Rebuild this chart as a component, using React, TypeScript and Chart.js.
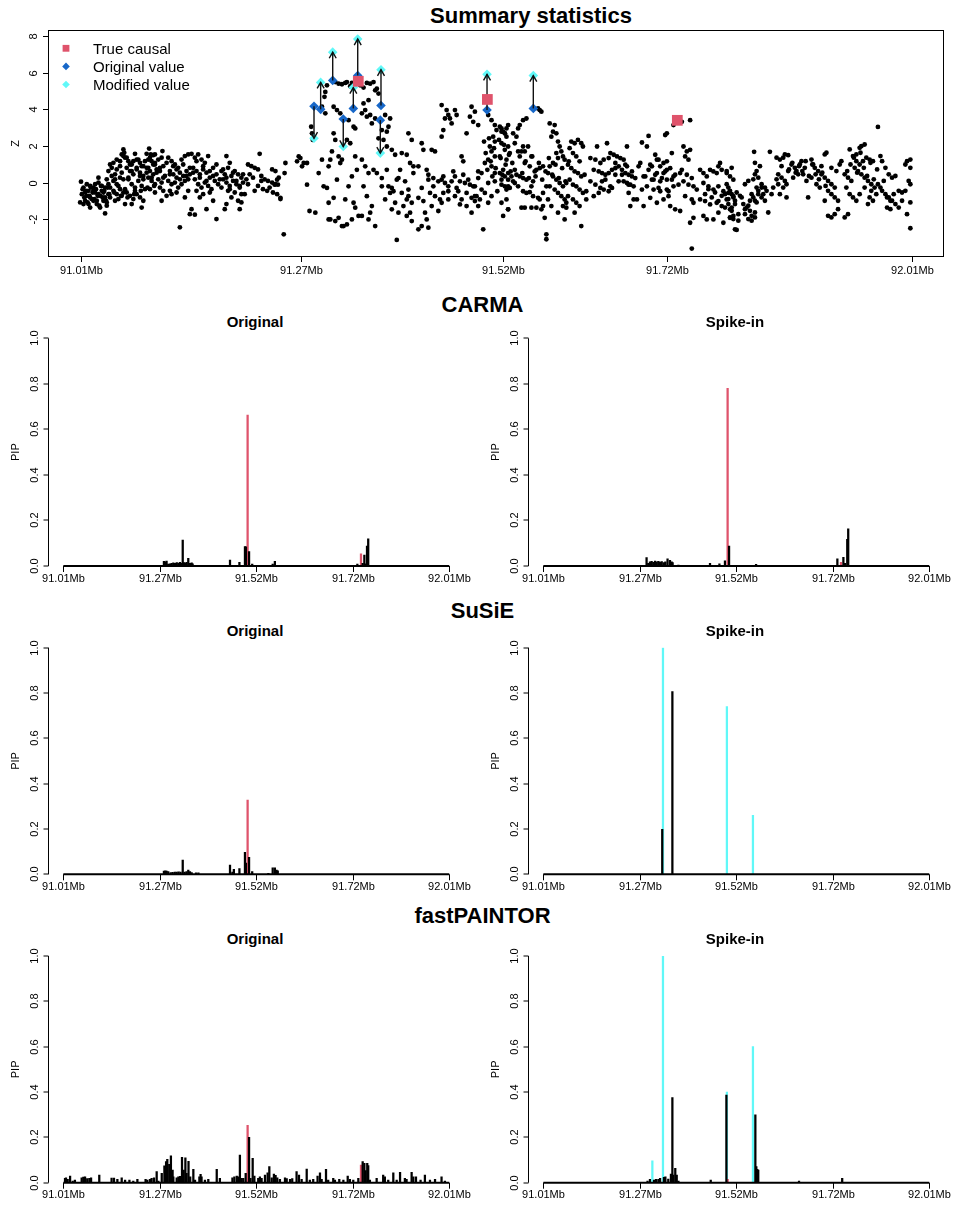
import React, { useEffect, useRef } from "react";
import { Chart, registerables } from "chart.js";

Chart.register(...registerables);

const FONT = '"Liberation Sans", Arial, Helvetica, sans-serif';
const RED = "#DF536B";
const BLUE = "#1767C8";
const CYAN = "#60F8F8";

// ---------- axis ticks ----------
const axisLabels = ["91.01Mb", "91.27Mb", "91.52Mb", "91.72Mb", "92.01Mb"];
const axisPosMb = [91.01, 91.2748, 91.5177, 91.7152, 92.01];
const axisIndex = [1, 401, 801, 1201, 1601];
const zTicks = [-2, 0, 2, 4, 6, 8];
const pipTicks = [0, 0.2, 0.4, 0.6, 0.8, 1.0];

// ---------- summary statistics (position in Mb, Z) ----------
const snpPos = [
  91.010, 91.009, 91.013, 91.015, 91.017, 91.019, 91.021, 91.011, 91.015, 91.019, 91.023, 91.021,
  91.025, 91.027, 91.031, 91.035, 91.039, 91.027, 91.031, 91.035, 91.039, 91.043, 91.025, 91.029, 91.033, 91.037, 91.041, 91.039, 91.043, 91.031, 91.041,
  91.045, 91.043, 91.047, 91.051, 91.053, 91.057, 91.059, 91.061, 91.062, 91.063, 91.049, 91.053, 91.057, 91.061, 91.045, 91.049, 91.053, 91.057, 91.061, 91.045, 91.051, 91.055, 91.059, 91.063,
  91.067, 91.071, 91.075, 91.077, 91.081, 91.085, 91.065, 91.069, 91.073, 91.077, 91.081, 91.085, 91.067, 91.071, 91.075, 91.079, 91.083, 91.087, 91.065, 91.069, 91.073, 91.077, 91.081, 91.085, 91.071, 91.083,
  91.092, 91.089, 91.094, 91.097, 91.099, 91.091, 91.095, 91.099, 91.103, 91.107, 91.108, 91.089, 91.093, 91.097, 91.101, 91.105, 91.109, 91.091, 91.095, 91.099, 91.103, 91.107, 91.111, 91.093, 91.099, 91.105, 91.109, 91.107, 91.113,
  91.115, 91.119, 91.123, 91.127, 91.131, 91.135, 91.139, 91.143, 91.117, 91.121, 91.125, 91.129, 91.133, 91.137, 91.141, 91.115, 91.119, 91.123, 91.127, 91.131, 91.135, 91.139, 91.119, 91.125, 91.117, 91.129, 91.135, 91.139, 91.143, 91.141, 91.147,
  91.147, 91.151, 91.155, 91.159, 91.163, 91.145, 91.149, 91.153, 91.157, 91.161, 91.165, 91.169, 91.173, 91.147, 91.151, 91.155, 91.159, 91.163, 91.167, 91.171, 91.175, 91.149, 91.157, 91.165, 91.161, 91.173, 91.169, 91.153,
  91.185, 91.189, 91.187, 91.179, 91.183, 91.191, 91.195, 91.199, 91.203, 91.181, 91.185, 91.189, 91.193, 91.197, 91.201, 91.205, 91.179, 91.187, 91.195, 91.203, 91.183, 91.185, 91.201, 91.203, 91.207, 91.191, 91.199,
  91.225, 91.211, 91.215, 91.219, 91.223, 91.240, 91.244, 91.213, 91.217, 91.227, 91.231, 91.235, 91.240, 91.244, 91.248, 91.211, 91.223, 91.229, 91.234, 91.237, 91.241, 91.246, 91.250, 91.219, 91.227,
  91.246, 91.247, 91.250, 91.255, 91.256, 91.243, 91.254, 91.274, 91.278, 91.282, 91.270, 91.276, 91.282, 91.272,
  91.285, 91.292, 91.287, 91.288, 91.289, 91.296, 91.300, 91.303, 91.304, 91.306, 91.302, 91.306, 91.308, 91.308, 91.310, 91.308, 91.312, 91.310, 91.300, 91.304,
  91.316, 91.320, 91.324, 91.328, 91.314, 91.318, 91.322, 91.314, 91.316, 91.320, 91.324, 91.318, 91.314, 91.316, 91.320, 91.324, 91.326, 91.328, 91.322,
  91.330, 91.334, 91.336, 91.332, 91.338, 91.340, 91.330, 91.334, 91.340, 91.342, 91.336, 91.332, 91.338, 91.340, 91.336, 91.330, 91.344,
  91.346, 91.350, 91.354, 91.358, 91.362, 91.348, 91.352, 91.354, 91.358, 91.360, 91.348, 91.352, 91.356, 91.362, 91.350, 91.354, 91.358, 91.360, 91.348, 91.356, 91.364, 91.364, 91.356, 91.350,
  91.366, 91.368, 91.364, 91.370, 91.372, 91.376, 91.378, 91.382, 91.380, 91.374, 91.378, 91.384, 91.368, 91.366, 91.372, 91.380, 91.376, 91.384, 91.382, 91.378, 91.372,
  91.404, 91.408, 91.388, 91.396, 91.402, 91.406, 91.410, 91.394, 91.390, 91.400, 91.396, 91.402, 91.408, 91.388, 91.392, 91.402, 91.406, 91.408, 91.390, 91.384, 91.404,
  91.420, 91.422, 91.432, 91.436, 91.444, 91.450, 91.452, 91.448, 91.444, 91.446, 91.416, 91.426, 91.428, 91.434, 91.440, 91.444, 91.448, 91.420, 91.430, 91.436, 91.442, 91.444, 91.432, 91.424, 91.426, 91.420, 91.416, 91.428, 91.446, 91.452,
  91.460, 91.462, 91.454, 91.456, 91.480, 91.484, 91.478, 91.482, 91.488, 91.474, 91.468, 91.470, 91.460, 91.466, 91.472, 91.478, 91.484, 91.452, 91.456, 91.462, 91.474, 91.468, 91.480, 91.484, 91.474, 91.480, 91.460, 91.466, 91.484, 91.494,
  91.500, 91.504, 91.508, 91.510, 91.514, 91.516, 91.520, 91.522, 91.524, 91.506, 91.508, 91.502, 91.504, 91.508, 91.500, 91.496, 91.504, 91.508, 91.514, 91.520, 91.524, 91.492, 91.488, 91.500, 91.508, 91.516, 91.524, 91.492, 91.496, 91.504, 91.490, 91.486, 91.488, 91.500, 91.522, 91.524,
  91.516, 91.518, 91.520, 91.522, 91.524, 91.516, 91.520, 91.526, 91.514, 91.522, 91.518, 91.524, 91.528, 91.530, 91.516, 91.520, 91.526, 91.522, 91.516, 91.524, 91.518,
  91.536, 91.538, 91.542, 91.546, 91.530, 91.534, 91.532, 91.542, 91.548, 91.536, 91.540, 91.544, 91.538, 91.544, 91.550, 91.534, 91.538, 91.542, 91.546, 91.532, 91.536, 91.542, 91.546, 91.550, 91.540, 91.544, 91.552, 91.532, 91.552,
  91.560, 91.562, 91.564, 91.552, 91.554, 91.556, 91.558, 91.562, 91.566, 91.554, 91.560, 91.562, 91.566, 91.558, 91.564, 91.568, 91.570, 91.570, 91.566, 91.570,
  91.574, 91.580, 91.578, 91.582, 91.576, 91.584, 91.586, 91.588, 91.582, 91.584, 91.590, 91.592, 91.578, 91.574, 91.572, 91.578, 91.582, 91.586, 91.590, 91.594, 91.574, 91.580, 91.584, 91.588, 91.592, 91.594, 91.590, 91.584, 91.594, 91.592, 91.572, 91.576,
  91.600, 91.604, 91.608, 91.612, 91.598, 91.602, 91.606, 91.610, 91.614, 91.596, 91.600, 91.604, 91.608, 91.612, 91.616, 91.598, 91.602, 91.606, 91.610, 91.614, 91.618, 91.596, 91.602, 91.606, 91.610, 91.604, 91.612, 91.618,
  91.631, 91.643, 91.623, 91.629, 91.635, 91.639, 91.645, 91.627, 91.633, 91.637, 91.641, 91.623, 91.629, 91.635, 91.639, 91.645, 91.627, 91.633, 91.647, 91.637,
  91.647, 91.651, 91.655, 91.659, 91.663, 91.667, 91.653, 91.657, 91.661, 91.665, 91.669, 91.673, 91.667, 91.649, 91.653, 91.663, 91.667, 91.671, 91.675, 91.669, 91.671, 91.675,
  91.685, 91.693, 91.691, 91.701, 91.703, 91.707, 91.711, 91.715, 91.713, 91.721, 91.703, 91.699, 91.707, 91.715, 91.723, 91.691, 91.699, 91.707, 91.715, 91.723, 91.731, 91.679, 91.687, 91.695, 91.703, 91.711, 91.719, 91.725, 91.731, 91.717, 91.697, 91.711, 91.719, 91.687,
  91.723, 91.733, 91.743, 91.735, 91.739, 91.743, 91.737, 91.741, 91.733, 91.739, 91.745, 91.735, 91.741, 91.747, 91.751, 91.737, 91.745, 91.747, 91.743, 91.747, 91.745, 91.715,
  91.755, 91.759, 91.763, 91.767, 91.771, 91.775, 91.779, 91.777, 91.781, 91.787, 91.791, 91.795, 91.759, 91.765, 91.771, 91.777, 91.783, 91.789, 91.795, 91.755, 91.761, 91.767, 91.775, 91.781, 91.787, 91.791, 91.795, 91.759, 91.763, 91.771, 91.777, 91.783, 91.791, 91.797,
  91.787, 91.789, 91.791, 91.793, 91.795, 91.797, 91.789, 91.793, 91.799, 91.803, 91.785, 91.793, 91.787, 91.791, 91.795, 91.799, 91.801,
  91.809, 91.813, 91.817, 91.819, 91.821, 91.811, 91.815, 91.807, 91.809, 91.813, 91.817, 91.821, 91.823, 91.821, 91.823, 91.821, 91.820, 91.825, 91.819, 91.815, 91.825, 91.823,
  91.827, 91.829, 91.833, 91.835, 91.837, 91.829, 91.833, 91.839, 91.841, 91.843, 91.831,
  91.847, 91.851, 91.855, 91.857, 91.861, 91.849, 91.853, 91.857, 91.859, 91.849, 91.855, 91.851, 91.859, 91.865, 91.869, 91.871, 91.873, 91.877, 91.881, 91.875, 91.879, 91.883, 91.885, 91.867, 91.861, 91.853, 91.847,
  91.889, 91.891, 91.893, 91.897, 91.901, 91.905, 91.907, 91.901, 91.905, 91.909, 91.913, 91.917, 91.909, 91.913, 91.917, 91.921, 91.909, 91.913, 91.917, 91.921, 91.905, 91.913, 91.919, 91.923, 91.925, 91.889, 91.895, 91.899,
  91.935, 91.939, 91.943, 91.947, 91.949, 91.953, 91.943, 91.947, 91.951, 91.955, 91.959, 91.963, 91.941, 91.945, 91.949, 91.953, 91.957, 91.961, 91.929, 91.933, 91.937, 91.931, 91.935, 91.939, 91.943, 91.929, 91.933, 91.947, 91.953, 91.959, 91.963, 91.961, 91.965, 91.967, 91.957,
  91.969, 91.972, 91.974, 91.978, 91.982, 91.986, 91.990, 91.994, 91.998, 91.969, 91.974, 91.978, 91.982, 91.986, 91.990, 91.994, 91.998, 92.002, 92.004, 92.008, 92.008, 92.006, 92.008, 92.008, 92.004, 92.008, 92.002, 91.988, 91.980, 91.984,
  91.012, 91.014, 91.016, 91.018, 91.020, 91.022, 91.024, 91.026, 91.028, 91.030, 91.032, 91.034, 91.036, 91.038, 91.040, 91.042, 91.044, 91.013, 91.017, 91.021, 91.025, 91.029, 91.033, 91.037, 91.041,
  91.047, 91.049, 91.051, 91.053, 91.055, 91.057, 91.059, 91.061, 91.063, 91.065, 91.067, 91.069, 91.071, 91.073, 91.075, 91.077, 91.079, 91.081, 91.083, 91.085, 91.087, 91.089, 91.091, 91.093, 91.095, 91.097, 91.099, 91.050, 91.058, 91.066, 91.074, 91.082, 91.090, 91.098,
  91.101, 91.105, 91.109, 91.113, 91.117, 91.121, 91.125, 91.129, 91.133, 91.137, 91.141, 91.145, 91.149, 91.153, 91.157, 91.161, 91.165, 91.169, 91.173, 91.177, 91.181, 91.185, 91.189, 91.193, 91.197, 91.201, 91.205, 91.209,
  91.495, 91.497, 91.499, 91.501, 91.503, 91.505, 91.507, 91.509, 91.511, 91.513, 91.515, 91.517, 91.519, 91.521, 91.523, 91.525, 91.527, 91.529,
  91.541, 91.545, 91.549, 91.553, 91.557, 91.561, 91.565, 91.569, 91.573, 91.577, 91.581, 91.585, 91.589, 91.593, 91.597,
  91.641, 91.645, 91.649, 91.653, 91.657, 91.661, 91.665, 91.669, 91.673, 91.677, 91.681, 91.685, 91.689, 91.693, 91.697, 91.701, 91.705, 91.709, 91.713, 91.717, 91.721, 91.725, 91.729, 91.683, 91.695, 91.705, 91.715,
  91.761, 91.765, 91.769, 91.773, 91.777, 91.781, 91.785, 91.789, 91.793, 91.797, 91.801, 91.805, 91.809, 91.813, 91.817, 91.821, 91.825, 91.829,
  91.862, 91.866, 91.870, 91.874, 91.878, 91.882, 91.886, 91.890, 91.894, 91.898, 91.902, 91.906,
  91.932, 91.936, 91.940, 91.944, 91.948, 91.952, 91.956, 91.960, 91.964, 91.968, 91.972, 91.976, 91.980, 91.984,
  91.386, 91.392, 91.398, 91.404, 91.410, 91.416, 91.422, 91.428, 91.434, 91.440, 91.446, 91.452, 91.458, 91.464, 91.470, 91.476, 91.482, 91.488,
];
const snpZ = [
  0.05, -1.08, -0.27, -0.54, -0.72, -0.45, -0.18, -0.63, -0.99, -1.17, -0.90, -1.36,
  -0.27, -0.09, 0, -0.18, -0.27, -0.54, -0.63, -0.45, -0.81, -0.63, -0.99, -1.17, -1.36, -0.99, -1.26, -1.68, -0.09, 0.27, 0.18,
  0.99, 0.63, 0.81, 0.45, 0.72, 1.17, 1.54, 1.81, 1.63, 1.36, 0.09, -0.09, 0.27, 0.18, -0.27, -0.45, -0.63, -0.36, -0.54, -0.81, -0.99, -0.90, -0.72, -1.17,
  1.17, 0.99, 1.57, 1.26, 1.08, 0.90, 0.81, 0.63, 0.45, 0.81, 0.54, 0.36, 0.18, -0.09, -0.27, 0.09, -0.18, -0.36, -0.54, -0.72, -0.90, -0.63, -0.81, -0.99, -1.17, -1.36,
  1.86, 1.57, 1.54, 1.50, 1.54, 1.26, 1.17, 0.99, 1.26, 1.36, 1.72, 0.81, 0.63, 0.45, 0.72, 0.63, 0.90, 0.27, 0.09, -0.09, 0.18, 0, 0.36, -0.36, -0.54, -0.27, -0.45, -0.99, -0.72,
  1.36, 1.17, 0.99, 0.81, 1.26, 1.45, 1.54, 1.57, 0.63, 0.45, 0.27, 0.54, 0.36, 0.63, 0.45, 0.09, -0.09, 0, -0.27, -0.09, 0.09, 0.18, -0.63, -0.54, -0.45, -2.44, -0.81, -0.45, -1.45, -1.72, -1.75,
  1.36, 1.54, 1.26, 1.08, 1.45, 0.81, 0.63, 0.45, 0.72, 0.54, 0.27, 0.81, 0.45, 0.18, -0.09, -0.27, 0, -0.18, -0.36, 0.09, -0.09, -0.45, -0.63, -0.54, -1.45, -1.99, -0.99, -0.81,
  1.45, 1.08, 0.81, 0.63, 0.45, 0.36, 0.63, 0.45, 0.27, 0.18, 0, -0.18, 0.09, -0.09, -0.27, 0, -0.27, -0.45, -0.54, -0.63, -1.45, -1.17, -1.45, -1.08, -0.63, -0.81, -0.99,
  1.57, 0.99, 0.90, 0.81, 0.72, 0.72, 0.63, 0.45, 0.27, 0.36, 0.18, 0.09, 0, -0.09, 0.27, -0.09, -0.18, -0.36, -0.45, -0.27, -0.54, -0.63, -0.90, -0.45, 0.09,
  0.16, -0.11, -0.83, 0.52, 1.07, -0.11, -2.82, 1.34, 1.07, 1.07, 1.16, 0.89, -0.11, 1.43,
  -1.55, -1.64, 3.05, 2.69, 2.33, 0.52, 1.25, 4.68, 4.95, 5.31, -0.20, -0.29, -1.10, -2.01, 1.25, 0.89, 1.70, -2.01, 4.14, 3.78,
  5.49, 5.40, 5.37, 5.44, 4.14, 3.96, 3.78, 2.69, 2.33, 1.43, 1.25, 0.16, -0.83, -2.10, -1.92, -2.37, -2.37, -0.92, 1.07,
  5.49, 5.26, 5.44, 3.41, 3.05, 2.96, 2.33, 2.15, 1.43, 0.70, 0.34, -0.20, -1.10, -1.37, -2.01, -2.28, -1.82,
  5.31, 5.19, 5.44, 5.40, 5.49, 3.78, 3.96, 3.60, 3.69, 3.23, 1.25, 0.89, 0.52, 0.70, -0.20, -0.74, -1.64, -1.28, -1.82, -2.01, -2.37, 5.04, 4.50, 4.32,
  5.13, 4.86, 3.50, 3.41, 2.87, 3.69, 2.78, 3.50, 3.05, 2.33, 1.97, 1.79, 2.42, 0.52, 0.25, -0.20, -0.92, -1.46, -0.56, 0.70, -0.20,
  2.69, 2.33, 1.52, 1.61, 1.52, 1.07, 0.89, 0.70, 0.16, 0.07, -0.56, -0.92, -1.10, -1.10, -1.64, -1.82, -1.64, -2.10, -3.13, -0.29, -0.74,
  2.15, 1.79, 1.79, 1.70, 4.23, 3.96, 3.69, 3.50, 2.51, 2.87, 0.89, 0.70, 0.16, 0.25, 0.07, 0.16, -0.02, -0.29, -0.56, -0.74, -0.92, -1.10, -1.28, -1.64, -2.01, -2.37, -2.55, -2.46, -0.56, -0.47,
  3.96, 3.69, 3.50, 3.23, 4.14, 3.87, 3.60, 3.32, 3.14, 2.69, 1.43, 1.16, 0.34, 0.07, -0.02, -0.11, -0.20, -0.20, 0.07, -0.29, -0.56, -0.92, -0.83, -1.01, -1.28, -1.64, -0.74, -1.19, -0.74, -2.55,
  3.69, 3.41, 3.14, 2.87, 3.05, 2.78, 2.69, 2.96, 3.14, 2.51, 2.24, 1.97, 1.70, 1.43, 1.25, 1.07, 0.89, 0.52, 0.52, 0.34, 0.16, 0.52, 0.25, -0.02, 0.07, -0.11, -0.20, -0.38, -0.56, -0.74, -0.92, -0.74, -1.28, -1.10, -0.38, -1.46,
  2.96, 2.78, 2.69, 2.51, 1.97, 2.15, 1.79, 1.61, 1.43, 1.25, 0.70, 0.52, 0.34, 0.07, 0.16, -0.20, -0.29, -0.92, -1.10, -1.46, -1.82,
  2.96, 3.14, 3.41, 3.50, 2.69, 2.51, 2.15, 1.97, 1.97, 1.70, 1.70, 1.70, 1.43, 1.07, 0.89, 0.43, 0.34, 0.25, 0.16, -0.02, -0.20, -0.47, -0.56, -0.52, -1.37, -1.37, -1.37, 0.70, 1.43,
  4.05, 3.96, 3.87, -0.20, 0.07, 0.61, 0.70, 0.79, 0.89, -0.74, -0.83, -0.92, -1.28, -1.37, -1.46, -1.92, -2.82, -3.09, -0.56, -0.20,
  3.23, 3.14, 2.78, 2.69, 2.51, 2.24, 1.97, 1.70, 1.61, 1.34, 1.43, 1.25, 1.07, 0.89, 0.52, 0.34, 0.16, -0.02, -0.20, -0.02, -0.20, -0.38, -0.56, -0.74, -0.92, -1.10, -1.28, -1.64, -1.37, -2.01, -0.92, -1.28,
  2.24, 2.15, 2.33, 2.15, 1.88, 1.61, 1.43, 1.16, 1.97, 0.98, 0.79, 0.61, 0.52, 0.34, 0.43, 0.16, -0.11, -0.20, -0.38, -0.56, -0.47, -0.74, -0.92, -1.10, -1.28, -1.64, -2.37, -0.92,
  1.97, 2.15, 1.34, 1.25, 1.07, 1.25, 1.34, 0.70, 0.61, 0.52, 0.43, 0.07, -0.11, -0.29, -0.38, -0.47, -0.74, -0.56, -0.20, 0.07,
  1.61, 1.52, 1.43, 1.34, 1.25, 0.89, 1.07, 0.89, 0.70, 0.52, 0.43, 0.34, 1.97, 0.70, 0.43, 0.07, -0.02, -0.11, -0.20, -0.56, -1.28, -0.92,
  2.19, 2.55, 1.97, 1.52, 1.25, 0.89, 1.07, 1.16, 2.60, 1.61, 0.52, 0.16, 0.07, 0.16, 0.34, -0.20, -0.38, -0.47, -0.38, -0.20, 0.52, -0.92, -1.28, -0.83, -1.10, -0.92, -1.28, -1.46, -1.55, -0.74, 0.89, 0.52, 0.79, 0.34,
  3.14, 3.32, 3.41, 1.97, 1.70, 1.79, 1.43, 1.25, 0.70, 0.43, 0.25, 0.07, -0.11, -0.20, -0.38, -0.74, -0.92, -1.10, -2.19, -1.92, -3.60, 2.69,
  0.70, 0.52, 0.34, 0.70, 0.61, 0.52, 1.07, 0.89, 0.70, 0.52, 0.34, 0.16, -0.02, -0.20, -0.38, -0.20, -0.47, -0.56, -0.74, -0.92, -1.01, -1.19, -1.10, -1.28, -0.92, -1.46, -1.82, -1.82, -2.01, -2.01, -1.64, -2.19, -1.92, -2.55,
  -0.09, -0.27, -0.45, -0.63, -0.81, -0.99, -1.17, -1.36, -0.54, -0.72, -0.63, 0.81, 0.63, -1.90, -1.99, -2.58, -2.08,
  -0.09, 0.09, -0.63, -0.81, -0.99, -1.36, -1.54, -1.17, -1.72, -1.99, -2.08, -1.90, -0.27, 0.45, 0.63, 1.08, 1.68, 0.27, 0.18, -0.99, -0.63, -1.08,
  0.90, -0.09, -0.27, -0.45, -1.63, -0.81, -0.99, 1.68, -0.63, -0.27, -0.63,
  1.36, 1.26, 1.36, 1.54, 1.50, 0.45, 0.27, 0.09, -0.09, -0.09, -0.27, -0.63, -0.81, 0.99, 0.81, 0.63, 0.45, 1.17, 0.81, 0.99, 0.45, 0.09, -0.81, 0.27, 0.63, 0.90, 0.18,
  1.26, 0.99, 0.81, 0.63, 0.90, 1.54, 1.63, 0.45, 0.27, 0.09, -0.09, -0.27, -0.45, -0.63, -0.81, -0.99, -1.81, -1.90, -1.72, -1.45, -0.99, 0.81, 0.63, 0.99, 1.17, 0.27, -0.09, -0.27,
  1.81, 1.45, 1.54, 1.90, 1.99, 2.08, 1.17, 0.99, 1.17, 1.36, 1.26, 1.17, 0.81, 0.63, 0.45, 0.27, 0.09, -0.09, 0.45, 0.27, 0.09, -0.27, -0.63, -0.81, -0.99, -1.90, -1.72, -0.63, -0.27, -0.81, -0.99, -0.45, -0.27, -0.63, -1.17,
  3.04, 1.45, 1.17, 0.81, 0.45, 0.27, 0.36, -0.45, -0.54, -0.09, -0.45, -0.63, -0.81, -0.99, -1.17, -1.36, -0.99, 0.99, 1.17, 1.26, 0.81, 0.09, -0.09, -1.08, -1.72, -2.49, -0.45, -0.63, -1.36, -1.45,
  -0.36, -0.81, -0.45, -1.08, -0.72, -0.27, -0.54, -0.90, -0.36, -0.72, -1.26, -0.18, -0.81, -0.45, -0.99, -0.27, -0.63, -1.17, -0.09, -0.81, -0.45, -0.99, -0.72, -0.54, -1.08,
  0.36, 1.08, 0.18, 1.26, -0.18, 0.90, 0.54, 1.45, -0.36, 1.36, 0.27, 0.99, 0.63, 1.17, -0.45, 0.72, 1.26, 0.36, 0.90, 0.18, 1.17, 0.54, 0.81, 1.36, 0.27, 0.99, 1.08, -0.54, -0.72, -0.81, -0.63, -0.45, -0.27, -0.18,
  0.54, 0.81, 0.27, 1.08, 0.45, 0.90, 0.72, 0.18, 0.99, 0.36, 0.81, 0.54, 1.17, 0.27, 0.90, 0.09, 0.63, 0.36, 0.99, 0.18, 0.72, 0.27, -0.36, 0.54, 0.09, -0.18, 0.45, 0.18,
  2.24, 1.61, 0.70, 2.42, 1.16, 0.34, 1.88, 0.79, -0.47, 2.33, 1.34, 0.43, 2.06, 0.98, -0.29, 1.52, 0.61, 1.07,
  0.52, 1.16, 0.25, 1.43, 0.34, 1.07, 0.16, 0.61, 1.34, 0.43, 0.98, 0.25, 0.79, 0.07, 1.16,
  0.16, 0.52, -0.29, 0.79, 0.07, 0.43, 0.98, -0.11, 0.61, 0.25, 0.89, -0.38, 0.34, 0.70, 0.16, 0.43, -0.29, 0.25, 0.61, -0.47, 0.16, 0.43, -0.11, 1.07, 0.98, 1.25, 0.70,
  -0.63, -0.36, -0.81, -0.54, -1.01, -0.72, -1.36, -0.90, -1.54, -1.17, -1.72, -0.81, -1.45, -1.26, -1.81, -1.63, -0.45, -0.27,
  0.72, 1.08, 0.54, 0.90, 0.63, 1.17, 0.36, 0.99, 0.45, 0.18, 0.54, -0.18,
  0.63, 0.99, 1.36, 0.54, 1.63, 0.81, 0.36, 1.08, 0.18, 0.72, -0.27, 0.09, -0.81, -0.99,
  -0.47, 0.25, -1.28, -0.38, 0.52, -0.83, -1.01, 0.43, -0.20, -1.55, 0.34, -0.92, 0.61, -0.47, 0.43, 0.16, -0.20, 0.61,
];

// spiked-in SNPs: original and modified Z
const spikePos = [91.2904, 91.2984, 91.3129, 91.3256, 91.3377, 91.343, 91.371, 91.3702, 91.4986, 91.5543];
const spikeOrigZ = [4.17, 4.0, 5.58, 3.47, 4.05, 5.85, 4.21, 3.41, 3.96, 4.05];
const spikeModZ = [2.42, 5.47, 7.12, 1.97, 5.19, 7.84, 6.16, 1.61, 5.91, 5.84];
// true causal SNPs
const causalPos = [91.3437, 91.499, 91.7276];
const causalZ = [5.53, 4.54, 3.4];

// ---------- PIP (x = SNP index) ----------
const carmaOrigIdx = [418, 422, 429, 436, 443, 450, 457, 464, 471, 478, 485, 492, 496, 501, 507, 512, 519, 526, 533, 537, 561, 692, 731, 754, 758, 771, 784, 869, 878, 1220, 1242, 1249, 1253, 1260, 1265];
const carmaOrigPip = [0.020, 0.018, 0.022, 0.008, 0.010, 0.012, 0.014, 0.012, 0.015, 0.013, 0.016, 0.012, 0.114, 0.015, 0.013, 0.016, 0.034, 0.012, 0.014, 0.010, 0.003, 0.026, 0.016, 0.085, 0.084, 0.063, 0.008, 0.008, 0.020, 0.008, 0.012, 0.048, 0.010, 0.088, 0.119];
const carmaOrigCausalIdx = [765, 1235];
const carmaOrigCausalPip = [0.663, 0.053];

const carmaSpikeIdx = [429, 436, 443, 450, 457, 464, 471, 478, 485, 492, 501, 507, 516, 526, 533, 537, 561, 692, 731, 754, 771, 883, 1220, 1245, 1252, 1261, 1265];
const carmaSpikePip = [0.037, 0.012, 0.018, 0.020, 0.016, 0.022, 0.018, 0.020, 0.017, 0.019, 0.015, 0.018, 0.032, 0.025, 0.018, 0.015, 0.004, 0.012, 0.009, 0.023, 0.088, 0.007, 0.032, 0.038, 0.012, 0.117, 0.163];
const carmaSpikeCausalIdx = [765, 1235];
const carmaSpikeCausalPip = [0.78, 0.016];

const susieOrigIdx = [418, 424, 429, 436, 446, 454, 463, 471, 479, 487, 496, 504, 512, 519, 526, 533, 551, 561, 692, 702, 708, 731, 754, 758, 771, 784, 851, 869, 878, 885, 890];
const susieOrigPip = [0.014, 0.015, 0.014, 0.012, 0.008, 0.009, 0.010, 0.010, 0.011, 0.010, 0.063, 0.010, 0.012, 0.019, 0.012, 0.008, 0.007, 0.007, 0.041, 0.010, 0.022, 0.025, 0.097, 0.049, 0.075, 0.012, 0.004, 0.029, 0.029, 0.019, 0.015];
const susieOrigCausalIdx = [765];
const susieOrigCausalPip = [0.328];

const susieSpikeIdx = [494, 536];
const susieSpikePip = [0.199, 0.806];
const susieSpikeModIdx = [497, 762, 870];
const susieSpikeModPip = [1.0, 0.74, 0.26];

const fpOrigIdx = [8, 12, 19, 29, 40, 49, 77, 84, 91, 100, 109, 116, 150, 201, 211, 225, 243, 257, 275, 291, 308, 342, 349, 360, 367, 377, 388, 395, 409, 420, 427, 432, 440, 447, 454, 457, 471, 478, 485, 493, 500, 507, 512, 520, 527, 540, 547, 565, 570, 574, 588, 602, 637, 650, 702, 710, 720, 726, 733, 740, 747, 757, 771, 777, 786, 793, 809, 816, 823, 837, 848, 855, 865, 874, 881, 888, 899, 920, 927, 941, 950, 968, 978, 989, 1010, 1023, 1037, 1055, 1065, 1072, 1090, 1099, 1120, 1127, 1145, 1162, 1180, 1189, 1203, 1224, 1242, 1249, 1254, 1261, 1265, 1272, 1300, 1327, 1334, 1348, 1369, 1383, 1397, 1417, 1424, 1445, 1452, 1463, 1482, 1500, 1521, 1542, 1569, 1583];
const fpOrigPip = [0.019, 0.022, 0.015, 0.029, 0.007, 0.012, 0.022, 0.025, 0.026, 0.018, 0.019, 0.022, 0.034, 0.020, 0.020, 0.015, 0.022, 0.012, 0.012, 0.007, 0.015, 0.015, 0.012, 0.015, 0.019, 0.022, 0.049, 0.007, 0.041, 0.074, 0.093, 0.103, 0.081, 0.118, 0.056, 0.026, 0.022, 0.026, 0.028, 0.112, 0.056, 0.110, 0.041, 0.094, 0.026, 0.059, 0.012, 0.026, 0.037, 0.026, 0.012, 0.015, 0.059, 0.019, 0.022, 0.026, 0.029, 0.026, 0.122, 0.019, 0.019, 0.041, 0.200, 0.019, 0.107, 0.029, 0.019, 0.026, 0.019, 0.034, 0.044, 0.071, 0.022, 0.038, 0.032, 0.022, 0.015, 0.022, 0.018, 0.015, 0.018, 0.049, 0.034, 0.015, 0.060, 0.012, 0.015, 0.029, 0.044, 0.015, 0.059, 0.012, 0.019, 0.012, 0.015, 0.012, 0.029, 0.015, 0.012, 0.019, 0.093, 0.085, 0.053, 0.085, 0.075, 0.012, 0.019, 0.034, 0.026, 0.012, 0.044, 0.012, 0.046, 0.019, 0.015, 0.046, 0.026, 0.026, 0.012, 0.034, 0.012, 0.015, 0.026, 0.007];
const fpOrigCausalIdx = [765, 1235];
const fpOrigCausalPip = [0.253, 0.078];

const fpSpikeIdx = [433, 443, 460, 468, 478, 485, 501, 507, 519, 530, 536, 540, 548, 554, 561, 695, 760, 880, 884, 888, 892, 1061, 1240];
const fpSpikePip = [0.007, 0.015, 0.012, 0.015, 0.015, 0.019, 0.024, 0.026, 0.016, 0.038, 0.376, 0.034, 0.063, 0.034, 0.007, 0.012, 0.387, 0.299, 0.071, 0.059, 0.056, 0.007, 0.019];
const fpSpikeModIdx = [453, 497, 762, 870];
const fpSpikeModPip = [0.096, 1.0, 0.4, 0.6];
const fpSpikeCausalIdx = [765];
const fpSpikeCausalPip = [0.015];

const none: number[] = [];

// ---------- helpers ----------
function pairs(xs: number[], ys: number[]) {
  const n = Math.min(xs.length, ys.length);
  const out = [];
  for (let i = 0; i < n; i++) out.push({ x: xs[i], y: ys[i] });
  return out;
}
function line(ctx: CanvasRenderingContext2D, x1: number, y1: number, x2: number, y2: number) {
  ctx.beginPath();
  ctx.moveTo(x1, y1);
  ctx.lineTo(x2, y2);
  ctx.stroke();
}
function vtext(ctx: CanvasRenderingContext2D, s: string, x: number, y: number) {
  ctx.save();
  ctx.translate(x, y);
  ctx.rotate(-Math.PI / 2);
  ctx.textAlign = "center";
  ctx.textBaseline = "alphabetic";
  ctx.fillText(s, 0, 0);
  ctx.restore();
}
const snap = (v: number) => Math.round(v) + 0.5;

// ---------- plugins ----------
const summaryAxes = {
  id: "summaryAxes",
  afterDraw(chart: any) {
    const { ctx, chartArea: a, scales } = chart;
    const xs = scales.x, ys = scales.y;
    ctx.save();
    ctx.strokeStyle = "#000";
    ctx.fillStyle = "#000";
    ctx.lineWidth = 1;
    ctx.strokeRect(snap(a.left), snap(a.top), Math.round(a.right - a.left) - 1, Math.round(a.bottom - a.top) - 1);
    ctx.font = `11px ${FONT}`;
    ctx.textAlign = "center";
    ctx.textBaseline = "alphabetic";
    axisPosMb.forEach((v, i) => {
      const px = snap(xs.getPixelForValue(v));
      line(ctx, px, a.bottom, px, a.bottom + 5);
      ctx.fillText(axisLabels[i], px, a.bottom + 17);
    });
    zTicks.forEach((v) => {
      const py = snap(ys.getPixelForValue(v));
      line(ctx, a.left - 5, py, a.left, py);
      vtext(ctx, String(v), a.left - 11, py);
    });
    vtext(ctx, "Z", 18.5, (a.top + a.bottom) / 2);
    ctx.restore();
  },
};

const summaryLegend = {
  id: "summaryLegend",
  afterDraw(chart: any) {
    const { ctx } = chart;
    const items = [
      { label: "True causal", color: RED, square: true },
      { label: "Original value", color: BLUE, square: false },
      { label: "Modified value", color: CYAN, square: false },
    ];
    ctx.save();
    ctx.font = `15px ${FONT}`;
    ctx.textAlign = "left";
    ctx.textBaseline = "alphabetic";
    items.forEach((it, i) => {
      const cx = 66, cy = 48.3 + i * 18.1;
      ctx.fillStyle = it.color;
      if (it.square) {
        ctx.fillRect(cx - 3.4, cy - 3.4, 6.8, 6.8);
      } else {
        const r = 3.8;
        ctx.beginPath();
        ctx.moveTo(cx, cy - r);
        ctx.lineTo(cx + r, cy);
        ctx.lineTo(cx, cy + r);
        ctx.lineTo(cx - r, cy);
        ctx.closePath();
        ctx.fill();
      }
      ctx.fillStyle = "#000";
      ctx.fillText(it.label, 93, cy + 5.7);
    });
    ctx.restore();
  },
};

const spikeArrows = {
  id: "spikeArrows",
  afterDatasetDraw(chart: any, args: any) {
    if (args.index !== 1) return;
    const { ctx, scales } = chart;
    const xs = scales.x, ys = scales.y;
    ctx.save();
    ctx.strokeStyle = "#111";
    ctx.lineWidth = 1.4;
    const L = 7, ang = Math.PI / 6;
    spikePos.forEach((p, i) => {
      const px = xs.getPixelForValue(p);
      const ya = ys.getPixelForValue(spikeOrigZ[i]);
      const yb = ys.getPixelForValue(spikeModZ[i]);
      line(ctx, px, ya, px, yb);
      const dir = yb < ya ? 1 : -1;
      ctx.beginPath();
      ctx.moveTo(px - L * Math.sin(ang), yb + dir * L * Math.cos(ang));
      ctx.lineTo(px, yb);
      ctx.lineTo(px + L * Math.sin(ang), yb + dir * L * Math.cos(ang));
      ctx.stroke();
    });
    ctx.restore();
  },
};

const pipAxes = {
  id: "pipAxes",
  afterDraw(chart: any) {
    const { ctx, chartArea: a, scales } = chart;
    const xs = scales.x, ys = scales.y;
    const y0 = ys.getPixelForValue(0), y1 = ys.getPixelForValue(1);
    ctx.save();
    ctx.strokeStyle = "#000";
    ctx.fillStyle = "#000";
    ctx.font = `11px ${FONT}`;
    ctx.lineWidth = 1;
    const lx = snap(a.left);
    line(ctx, lx, y0, lx, y1);
    pipTicks.forEach((v) => {
      const py = snap(ys.getPixelForValue(v)) - 0.5;
      line(ctx, lx - 5, py, lx, py);
      vtext(ctx, v.toFixed(1), a.left - 10, py);
    });
    const xa = xs.getPixelForValue(axisIndex[0]);
    const xb = xs.getPixelForValue(axisIndex[axisIndex.length - 1]);
    ctx.lineWidth = 2;
    line(ctx, xa, y0, xb, y0);
    ctx.lineWidth = 1;
    ctx.textAlign = "center";
    ctx.textBaseline = "alphabetic";
    axisIndex.forEach((v, i) => {
      const px = snap(xs.getPixelForValue(v));
      line(ctx, px, y0, px, y0 + 6);
      ctx.fillText(axisLabels[i], px, y0 + 15.7);
    });
    vtext(ctx, "PIP", 19.3, (y0 + y1) / 2);
    ctx.restore();
  },
};

// ---------- chart configs ----------
function baseOptions(padding: any) {
  return {
    animation: false,
    responsive: false,
    devicePixelRatio: 1,
    events: [],
    layout: { padding },
    plugins: { legend: { display: false }, tooltip: { enabled: false }, title: { display: false } },
  };
}

function summaryConfig(): any {
  return {
    type: "scatter",
    data: {
      datasets: [
        { data: pairs(causalPos, causalZ), pointStyle: "rect", pointRadius: 7.6, pointBackgroundColor: RED, pointBorderWidth: 0, pointBorderColor: RED },
        { data: pairs(spikePos, spikeModZ), pointStyle: "rectRot", pointRadius: 4.8, pointBackgroundColor: CYAN, pointBorderWidth: 0, pointBorderColor: CYAN },
        { data: pairs(spikePos, spikeOrigZ), pointStyle: "rectRot", pointRadius: 4.8, pointBackgroundColor: BLUE, pointBorderWidth: 0, pointBorderColor: BLUE },
        { data: pairs(snpPos, snpZ), pointStyle: "circle", pointRadius: 2.4, pointBackgroundColor: "#000", pointBorderWidth: 0, pointBorderColor: "#000" },
      ],
    },
    options: {
      ...baseOptions({ left: 48, top: 30, right: 11, bottom: 28 }),
      scales: {
        x: { type: "linear", min: 90.9703, max: 92.0485, display: false },
        y: { type: "linear", min: -4.06, max: 8.33, display: false },
      },
    },
    plugins: [summaryAxes, spikeArrows, summaryLegend],
  };
}

type Panel = { bi: number[]; bp: number[]; ri: number[]; rp: number[]; ci: number[]; cp: number[] };

function pipConfig(p: Panel, padding: any): any {
  const bar = (data: any, color: string) => ({
    data,
    backgroundColor: color,
    borderWidth: 0,
    barThickness: 1.6,
    grouped: false,
  });
  return {
    type: "bar",
    data: {
      datasets: [
        bar(pairs(p.bi, p.bp), "#000"),
        bar(pairs(p.ri, p.rp), RED),
        bar(pairs(p.ci, p.cp), CYAN),
      ],
    },
    options: {
      ...baseOptions(padding),
      scales: {
        x: { type: "linear", min: -63, max: 1665, offset: false, display: false },
        y: { type: "linear", min: 0, max: 1, display: false },
      },
    },
    plugins: [pipAxes],
  };
}

const rows = [
  {
    method: "CARMA", titleBase: 313, subBase: 326.5, top: 326, height: 264, y1: 338.3, y0: 566,
    panels: [
      { bi: carmaOrigIdx, bp: carmaOrigPip, ri: carmaOrigCausalIdx, rp: carmaOrigCausalPip, ci: none, cp: none },
      { bi: carmaSpikeIdx, bp: carmaSpikePip, ri: carmaSpikeCausalIdx, rp: carmaSpikeCausalPip, ci: none, cp: none },
    ],
  },
  {
    method: "SuSiE", titleBase: 618.5, subBase: 635.7, top: 636, height: 264, y1: 647.7, y0: 874.3,
    panels: [
      { bi: susieOrigIdx, bp: susieOrigPip, ri: susieOrigCausalIdx, rp: susieOrigCausalPip, ci: none, cp: none },
      { bi: susieSpikeIdx, bp: susieSpikePip, ri: none, rp: none, ci: susieSpikeModIdx, cp: susieSpikeModPip },
    ],
  },
  {
    method: "fastPAINTOR", titleBase: 924, subBase: 943.3, top: 944, height: 258, y1: 956, y0: 1182.7,
    panels: [
      { bi: fpOrigIdx, bp: fpOrigPip, ri: fpOrigCausalIdx, rp: fpOrigCausalPip, ci: none, cp: none },
      { bi: fpSpikeIdx, bp: fpSpikePip, ri: fpSpikeCausalIdx, rp: fpSpikeCausalPip, ci: fpSpikeModIdx, cp: fpSpikeModPip },
    ],
  },
];

// ---------- components ----------
function ChartCanvas({ left, top, width, height, make }: { left: number; top: number; width: number; height: number; make: () => any }) {
  const ref = useRef<HTMLCanvasElement | null>(null);
  useEffect(() => {
    if (!ref.current) return;
    const chart = new Chart(ref.current, make());
    return () => chart.destroy();
  }, []);
  return (
    <canvas
      ref={ref}
      width={width}
      height={height}
      style={{ position: "absolute", left, top, width, height, display: "block" }}
    />
  );
}

function Label({ text, cx, baseline, size }: { text: string; cx: number; baseline: number; size: number }) {
  return (
    <div
      style={{
        position: "absolute",
        left: cx - 300,
        width: 600,
        top: baseline - 0.8465 * size,
        fontSize: size,
        lineHeight: `${size}px`,
        fontWeight: "bold",
        fontFamily: FONT,
        textAlign: "center",
        whiteSpace: "nowrap",
        color: "#000",
      }}
    >
      {text}
    </div>
  );
}

export default function App() {
  const colLeft = [0, 480];
  const subs = ["Original", "Spike-in"];
  return (
    <div style={{ position: "absolute", left: 0, top: 0, width: 955, height: 1205, overflow: "hidden", background: "#fff" }}>
      <Label text="Summary statistics" cx={531} baseline={24} size={22} />
      <ChartCanvas left={0} top={0} width={955} height={285} make={summaryConfig} />
      {rows.map((r) => (
        <React.Fragment key={r.method}>
          <Label text={r.method} cx={482.5} baseline={r.titleBase} size={22} />
          {r.panels.map((p, j) => (
            <React.Fragment key={j}>
              <Label text={subs[j]} cx={colLeft[j] + 255} baseline={r.subBase} size={15} />
              <ChartCanvas
                left={colLeft[j]}
                top={r.top}
                width={475}
                height={r.height}
                make={() => pipConfig(p, { left: 47.9, right: 10.3, top: r.y1 - r.top, bottom: r.top + r.height - r.y0 })}
              />
            </React.Fragment>
          ))}
        </React.Fragment>
      ))}
    </div>
  );
}
